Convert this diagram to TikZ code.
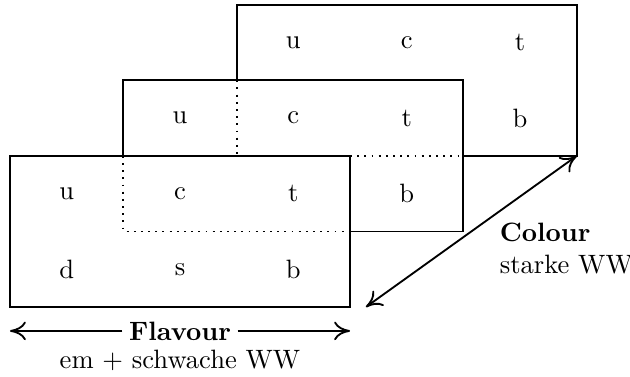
\documentclass[tikz,border=0pt]{standalone}
\usetikzlibrary{arrows.meta}
\begin{document}
\begin{tikzpicture}[x=1cm,y=1cm, line width=0.7pt,
  hid/.style={dotted},
  cell/.style={inner sep=0pt},
  lab/.style={inner sep=0pt, anchor=base west},
  tip/.style={-{Computer Modern Rightarrow[length=6pt,width=7pt]}},
  arr/.style={{Computer Modern Rightarrow[length=6pt,width=7pt]}-{Computer Modern Rightarrow[length=6pt,width=7pt]}}]
\useasboundingbox (-0.132,-0.913) rectangle (8.205,4.063);
% back rectangle (colour 3)
\draw (3,3) -- (3,4) -- (7.5,4) -- (7.5,2) -- (6,2);
\draw[hid] (3,3) -- (3,2);
\draw[hid] (4.5,2) -- (6,2);
% middle rectangle (colour 2)
\draw (1.5,2) -- (1.5,3) -- (6,3) -- (6,1) -- (4.5,1);
\draw[hid] (1.5,2) -- (1.5,1) -- (4.5,1);
% front rectangle (colour 1)
\draw (0,0) rectangle (4.5,2);
% labels
\node[cell] (fu) at (0.75,1.5) {u};
\node[cell] (fc) at (2.25,1.5) {c};
\node[cell] (ft) at (3.75,1.5) {t};
\node[cell] (fd) at (0.75,0.5) {d};
\node[cell] (fs) at (2.25,0.5) {s};
\node[cell] (fb) at (3.75,0.5) {b};
\node[cell] (mu) at (2.25,2.5) {u};
\node[cell] (mc) at (3.75,2.5) {c};
\node[cell] (mt) at (5.25,2.5) {t};
\node[cell] (mb) at (5.25,1.5) {b};
\node[cell] (bu) at (3.75,3.5) {u};
\node[cell] (bc) at (5.25,3.5) {c};
\node[cell] (bt) at (6.75,3.5) {t};
\node[cell] (bb) at (6.75,2.5) {b};
% flavour arrow
\node[anchor=base, inner sep=2.2pt] (fl) at (2.25,-0.437) {\textbf{Flavour}};
\coordinate (fl1) at (0,0 |- fl.west);
\coordinate (fl2) at (4.5,0 |- fl.east);
\draw[tip] (fl.west) -- (fl1);
\draw[tip] (fl.east) -- (fl2);
\node[anchor=base, inner sep=0pt] (flt) at (2.25,-0.811) {em + schwache WW};
% colour arrow
\coordinate (c1) at (7.5,2);
\coordinate (c2) at (4.71,0);
\draw[arr] (c2) -- (c1);
\node[lab] (col) at (6.47,0.864) {\textbf{Colour}};
\node[lab] (colt) at (6.47,0.446) {starke WW};
\end{tikzpicture}
\end{document}
